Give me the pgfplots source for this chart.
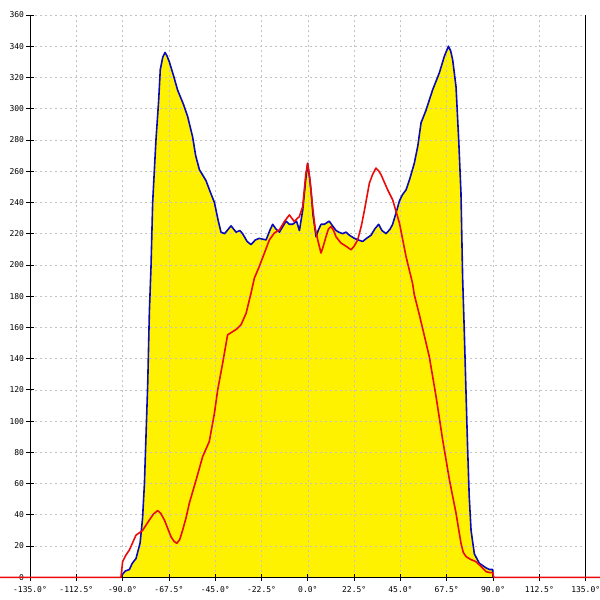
\documentclass[border=0pt]{standalone}
\usepackage{fontspec}
\setmonofont{DejaVu Sans Mono}
\usepackage{pgfplots}
\usepackage{pgfplotstable}
\pgfplotsset{compat=1.18}
\definecolor{bl}{RGB}{10,10,185}
\definecolor{rd}{RGB}{235,10,10}
\definecolor{gridc}{RGB}{195,195,195}
\pgfplotstableread{
x y
-90.8 0
-90 2
-88.7 4
-86.7 5
-85.3 9
-83.5 12
-81.5 22
-80.3 38
-79.4 60
-78.6 92
-77.8 124
-77 170
-76.2 199
-75.4 240
-73.8 280
-72.5 305
-71.7 325
-70.5 333
-69.4 336
-68.5 334
-67.3 330
-65 320
-63.3 312
-60.5 303
-58.4 295
-56 282
-54.5 270
-52.7 261
-49.5 254
-47.5 247
-45.4 240
-43.5 228
-42.2 221
-40.5 220
-37.3 225
-34.9 221
-33 222
-31.7 220
-29.5 215
-27.6 213
-25.5 216
-23.6 217
-20.3 216
-18.5 222
-17.1 226
-15.5 223
-13.8 221
-12 225
-10.6 228
-9 226
-7.4 226
-5.5 228
-4.1 222
-2.5 235
-1 255
-0.1 265
0.8 256
1.5 248
2.5 232
4 218
5 222
6.4 226
8 226
10.4 228
12 225
13.7 222
15 221
16.9 220
18.5 221
20.2 219
22.6 217
24.5 216
26.6 215
28.5 217
30.7 219
32.5 223
34.4 226
36 222
38 220
40 223
41.2 226
43 234
44.5 241
46 245
47.7 248
49.5 255
51.7 265
53.4 276
55 291
57.4 299
60.6 312
63.9 323
66.3 333.5
68.3 340
69.4 337
70.4 331
72 314
73.3 280
74.4 246
75.2 192
76 158
76.9 116
77.6 84
78.4 52
79.3 30
80.9 15
81.7 13
83.3 9
86.6 6
88.2 5
89.8 5
90 0
}\bluedata
\pgfplotstableread{
x y
-149.5 0
-90.8 0
-90 10
-88.5 14
-86.7 17.5
-83.5 27
-80.3 30
-77 36.7
-75 40.5
-73 42.7
-71.5 41
-69.7 36.7
-68 31
-66.5 26
-65 23
-63.7 21.8
-62.3 24
-60.8 30.3
-59.2 38
-57.6 47.4
-54.3 62.3
-51.1 77.3
-47.9 86.9
-45.4 105
-43.8 120
-41.4 137
-39 155.2
-36.5 157.3
-34.5 159
-32.5 161.6
-30 169
-27.6 182
-26 191.5
-23.6 199
-21.1 207.6
-18.7 216
-16.3 220.4
-13.8 222.5
-11.4 227.8
-9 232
-6.6 227.8
-4.1 231
-2.5 237.4
-1 258
-0.1 265
1 255
2.3 237.4
3.5 224
4.8 216
6.4 207.6
7.5 212
8.8 218
10 223
11.3 224.6
12.5 222
13.7 218
16.1 214
18.5 212
21 209.7
22.5 212
24.2 216
26 225
27.5 235
29.9 252.4
31.5 258
33.1 262
34.5 260
35.6 257.7
38.8 248
41.2 241.7
44.5 226.8
47.7 205.4
50.9 188
51.7 181
54.2 168
59 141.3
62.3 115.7
65.5 88
68.8 62.3
72 41
74.4 21.8
75.5 16
76.9 13.2
79 11.5
81.7 10
84.2 6.8
86.6 3.6
88.5 3
89.8 3
90.3 0
141.9 0
}\reddata
\begin{document}
\begin{tikzpicture}[x=1pt,y=1pt]
\begin{axis}[
  at={(0,0)}, anchor=south west,
  width=555.7pt, height=562.3pt, scale only axis,
  xmin=-135, xmax=135, ymin=0, ymax=360,
  clip=false,
  set layers,
  axis x line*=bottom, axis y line*=box, ytick pos=left,
  axis line style={black, line width=0.9pt},
  xtick={-135,-112.5,-90,-67.5,-45,-22.5,0,22.5,45,67.5,90,112.5,135},
  xticklabels={-135.0°,-112.5°,-90.0°,-67.5°,-45.0°,-22.5°,0.0°,22.5°,45.0°,67.5°,90.0°,112.5°,135.0°},
  ytick={0,20,...,360},
  grid=major,
  major grid style={gridc, dash pattern=on 2pt off 3pt, line width=0.7pt},
  tick align=center, major tick length=7pt,
  tick style={black, line width=0.8pt},
  ticklabel style={font=\fontsize{8}{9}\ttfamily},
  xticklabel style={yshift=-2pt},
  yticklabel style={xshift=1pt},
  /pgf/number format/assume math mode=true,
]
\addplot[fill=yellow, draw=none, on layer=axis background] table {\bluedata} \closedcycle;
\addplot[bl, line width=1.6pt, line join=round] table {\bluedata};
\addplot[rd, line width=1.6pt, line join=round] table {\reddata};
\end{axis}
\pgfresetboundingbox
\path[use as bounding box] (-30,-22.7) rectangle (570,577.3);
\end{tikzpicture}
\end{document}
